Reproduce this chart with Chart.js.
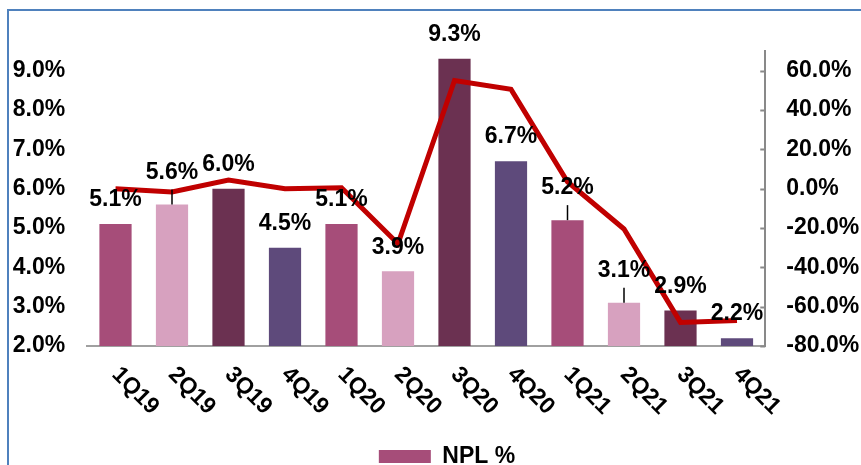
<!DOCTYPE html>
<html>
<head>
<meta charset="utf-8">
<script src="https://cdn.jsdelivr.net/npm/chart.js@4/dist/chart.umd.min.js"></script>
<style>
    body { margin: 0; background: #fff; }
    #wrap { position: relative; width: 861px; height: 465px; overflow: hidden; }
    #frame { position: absolute; left: 7px; top: 9px; width: 900px; height: 500px;
             border-left: 2px solid #4f81bd; border-top: 2px solid #4f81bd; }
    #npl { position: absolute; left: 0; top: 0; }
</style>
</head>
<body>
<div id="wrap">
    <div id="frame"></div>
    <canvas id="npl" width="861" height="465"></canvas>
</div>
<script>
// chart data
var quarters = ["1Q19", "2Q19", "3Q19", "4Q19", "1Q20", "2Q20", "3Q20", "4Q20", "1Q21", "2Q21", "3Q21", "4Q21"];
var nplRatio = [5.1, 5.6, 6.0, 4.5, 5.1, 3.9, 9.3, 6.7, 5.2, 3.1, 2.9, 2.2];
var nplGrowth = [0, -1.7, 4.4, 0, 0.5, -28, 55, 50.5, 3.5, -20.5, -68, -67];
var leftTicks = [2, 3, 4, 5, 6, 7, 8, 9];
var rightTicks = [-80, -60, -40, -20, 0, 20, 40, 60];

var barColors = ["#a64d79", "#d7a1bf", "#6b3151", "#5e4a7b"];
var withLeader = [1, 8, 9]; // labels that sit higher with a small pointer line
var font = '"Liberation Sans", Arial, sans-serif';
var fontSize = 23;

var labelsPlugin = {
    id: "labels",
    afterDatasetsDraw(chart) {
        var ctx = chart.ctx;
        var bars = chart.getDatasetMeta(0).data;
        ctx.save();
        ctx.font = "bold " + fontSize + "px " + font;
        ctx.fillStyle = "#000";
        ctx.textAlign = "center";
        ctx.textBaseline = "middle";
        bars.forEach(function (bar, i) {
            var lift = 24;
            if (withLeader.indexOf(i) >= 0) {
                lift = 32;
                ctx.strokeStyle = "#000";
                ctx.lineWidth = 1.5;
                ctx.beginPath();
                ctx.moveTo(bar.x, bar.y - 15);
                ctx.lineTo(bar.x, bar.y);
                ctx.stroke();
            }
            ctx.fillText(nplRatio[i].toFixed(1) + "%", bar.x, bar.y - lift);
        });
        ctx.restore();
    },
    afterDraw(chart) {
        var ctx = chart.ctx;
        var x = chart.scales.x;
        var y2 = chart.scales.y2;
        ctx.save();
        // slanted quarter labels
        ctx.font = "bold " + fontSize + "px " + font;
        ctx.fillStyle = "#000";
        ctx.textAlign = "left";
        ctx.textBaseline = "top";
        quarters.forEach(function (q, i) {
            ctx.save();
            ctx.translate(x.getPixelForValue(i) + 8, 363);
            ctx.rotate(Math.PI / 4);
            ctx.fillText(q, 0, 0);
            ctx.restore();
        });
        // inward tick marks on the right axis
        ctx.strokeStyle = "#898989";
        ctx.lineWidth = 2;
        rightTicks.forEach(function (v) {
            var py = Math.round(y2.getPixelForValue(v)) + 0.5;
            ctx.beginPath();
            ctx.moveTo(y2.left - 5, py);
            ctx.lineTo(y2.left, py);
            ctx.stroke();
        });
        ctx.restore();
    }
};

var ctx = document.getElementById("npl").getContext("2d");
var myChart = new Chart(ctx, {
    type: "bar",
    data: {
        labels: quarters,
        datasets: [
            {
                label: "NPL %",
                data: nplRatio,
                backgroundColor: quarters.map(function (q, i) { return barColors[i % 4]; }),
                barPercentage: 0.57,
                categoryPercentage: 1,
                yAxisID: "y",
                order: 2,
            },
            {
                type: "line",
                label: "growth",
                data: nplGrowth,
                borderColor: "#c00000",
                borderWidth: 5,
                pointRadius: 0,
                tension: 0,
                yAxisID: "y2",
                order: 1,
            },
        ],
    },
    plugins: [labelsPlugin],
    options: {
        responsive: false,
        animation: false,
        layout: { padding: { left: 0, right: -33, top: 51, bottom: -13 } },
        plugins: {
            tooltip: { enabled: false },
            legend: {
                position: "bottom",
                labels: {
                    filter: function (item) { return item.datasetIndex === 0; },
                    boxWidth: 52,
                    boxHeight: 13,
                    padding: 0,
                    color: "#000",
                    font: { family: font, size: fontSize, weight: "bold" },
                },
            },
        },
        scales: {
            x: {
                ticks: { display: false },
                grid: { display: false },
                border: { color: "#a0a0a0", width: 2 },
                afterFit: function (s) { s.height = 99; },
            },
            y: {
                position: "left",
                min: 2,
                max: 9.5,
                afterBuildTicks: function (s) { s.ticks = leftTicks.map(function (v) { return { value: v }; }); },
                ticks: {
                    padding: 22,
                    color: "#000",
                    font: { family: font, size: fontSize, weight: "bold" },
                    callback: function (v) { return v.toFixed(1) + "%"; },
                },
                grid: { display: false, drawTicks: false },
                border: { display: false },
                afterFit: function (s) { s.width = 87.25; },
            },
            y2: {
                position: "right",
                min: -80,
                max: 70,
                afterBuildTicks: function (s) { s.ticks = rightTicks.map(function (v) { return { value: v }; }); },
                ticks: {
                    padding: 21,
                    color: "#000",
                    font: { family: font, size: fontSize, weight: "bold" },
                    callback: function (v) { return v.toFixed(1) + "%"; },
                },
                grid: { display: false, drawTicks: false },
                border: { color: "#898989", width: 2 },
                afterFit: function (s) { s.width = 128.75; },
            },
        },
    },
});
</script>
</body>
</html>
